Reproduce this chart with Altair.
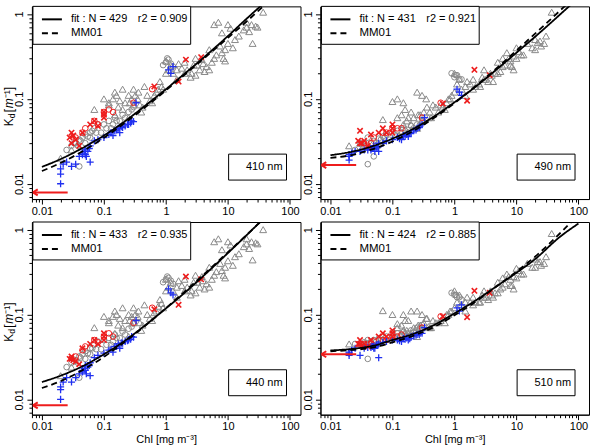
import altair as alt
import pandas as pd

FONT = "Liberation Sans"

# ---------------- panel descriptors ----------------
panel_labels = ["410 nm", "490 nm", "440 nm", "510 nm"]
fit_n = [429, 431, 433, 424]
fit_r2 = ["0.909", "0.921", "0.935", "0.885"]
kw_arrow = [0.0079, 0.0166, 0.0085, 0.034]
arrow_tail_chl = 0.026

# ---------------- curves ----------------
curve_chl = [0.01, 0.02, 0.05, 0.1, 0.2, 0.5, 1, 2, 5, 10, 20, 50, 100]
fit_410 = [0.0158, 0.0195, 0.0275, 0.037, 0.052, 0.087, 0.13, 0.198, 0.35, 0.55, 0.88, 1.6, 2.5]
mm01_410 = [0.0141, 0.0176, 0.0252, 0.0348, 0.0498, 0.0833, 0.126, 0.192, 0.339, 0.525, 0.815, 1.5, 2.3]
fit_490 = [0.0217, 0.0235, 0.028, 0.034, 0.043, 0.064, 0.091, 0.132, 0.228, 0.35, 0.54, 0.98, 1.55]
mm01_490 = [0.0202, 0.0215, 0.0258, 0.0314, 0.0405, 0.0615, 0.089, 0.1334, 0.236, 0.371, 0.588, 1.09, 1.75]
fit_440 = [0.016, 0.019, 0.0255, 0.034, 0.047, 0.078, 0.118, 0.18, 0.33, 0.53, 0.86, 1.65, 2.6]
mm01_440 = [0.0136, 0.0164, 0.0231, 0.0317, 0.0455, 0.0774, 0.119, 0.186, 0.34, 0.542, 0.865, 1.63, 2.6]
fit_510 = [0.0377, 0.039, 0.043, 0.05, 0.058, 0.077, 0.103, 0.14, 0.22, 0.31, 0.45, 0.82, 1.18]
mm01_510 = [0.0369, 0.038, 0.041, 0.047, 0.055, 0.073, 0.098, 0.135, 0.22, 0.32, 0.48, 0.9, 1.5]

# ---------------- gray triangles ----------------
tri_chl = [0.07, 0.1, 0.12, 0.15, 0.15, 0.18, 0.2, 0.2, 0.25, 0.3,
           0.3, 0.35, 0.4, 0.5, 0.6, 0.7, 0.8, 1.0, 1.0, 1.2,
           1.5, 1.5, 2.0, 2.0, 2.5, 3.0, 3.5, 4.0, 5.0, 5.0,
           6.0, 7.0, 8.0, 8.0, 10.0, 10.0, 15.0, 20.0, 25.0, 30.0,
           37.0, 0.45, 0.9, 1.8, 3.0, 6.0, 12.0, 0.25, 9.0, 9.0,
           20.0, 22.0, 28.0, 4.5, 2.8, 1.1, 0.02, 0.03,
           0.12, 0.14, 0.17, 0.22, 0.28, 0.32, 0.38, 0.42, 0.55, 0.65,
           0.75, 0.85, 1.3, 1.6, 2.2, 2.6, 3.2, 3.8, 4.2, 5.5,
           6.5, 7.5, 8.5, 11.0, 13.0, 18.0, 24.0, 0.16, 0.26, 0.36]
tri_410 = [0.075, 0.10, 0.085, 0.12, 0.065, 0.095, 0.13, 0.075, 0.11, 0.13,
           0.085, 0.10, 0.07, 0.11, 0.09, 0.12, 0.16, 0.28, 0.20, 0.25,
           0.22, 0.17, 0.27, 0.20, 0.18, 0.30, 0.22, 0.26, 0.22, 0.38,
           0.75, 0.80, 0.35, 0.60, 0.45, 0.75, 0.55, 0.70, 0.45, 0.70,
           1.05, 0.14, 0.13, 0.23, 0.19, 0.30, 0.40, 0.06, 0.28, 0.38,
           0.80, 0.62, 0.72, 0.24, 0.25, 0.22, 0.02, 0.025,
           0.09, 0.10, 0.08, 0.09, 0.10, 0.11, 0.085, 0.08, 0.095, 0.11,
           0.13, 0.14, 0.20, 0.26, 0.22, 0.20, 0.25, 0.29, 0.21, 0.27,
           0.33, 0.42, 0.30, 0.68, 0.50, 0.65, 0.75, 0.11, 0.09, 0.12]
tri_440 = [0.07, 0.095, 0.08, 0.11, 0.06, 0.09, 0.12, 0.07, 0.10, 0.12,
           0.08, 0.095, 0.065, 0.10, 0.085, 0.11, 0.15, 0.26, 0.19, 0.24,
           0.21, 0.16, 0.26, 0.19, 0.17, 0.29, 0.21, 0.25, 0.21, 0.36,
           0.72, 0.78, 0.33, 0.58, 0.43, 0.72, 0.52, 0.68, 0.44, 0.68,
           1.0, 0.13, 0.12, 0.22, 0.18, 0.29, 0.38, 0.055, 0.27, 0.36,
           0.78, 0.60, 0.70, 0.23, 0.24, 0.21, 0.019, 0.024,
           0.085, 0.095, 0.075, 0.085, 0.095, 0.10, 0.08, 0.075, 0.09, 0.105,
           0.125, 0.135, 0.19, 0.25, 0.21, 0.19, 0.24, 0.28, 0.20, 0.26,
           0.32, 0.40, 0.29, 0.66, 0.48, 0.63, 0.72, 0.10, 0.085, 0.11]
tri_490 = [0.057, 0.093, 0.10, 0.05, 0.09, 0.06, 0.07, 0.05, 0.12, 0.11,
           0.055, 0.10, 0.07, 0.08, 0.085, 0.075, 0.10, 0.20, 0.12, 0.17,
           0.14, 0.11, 0.17, 0.13, 0.15, 0.22, 0.16, 0.19, 0.20, 0.27,
           0.30, 0.35, 0.25, 0.28, 0.30, 0.40, 0.45, 0.50, 0.42, 0.55,
           1.05, 0.085, 0.11, 0.15, 0.17, 0.24, 0.33, 0.045, 0.22, 0.32,
           0.38, 0.46, 0.45, 0.20, 0.18, 0.15, 0.028, 0.03,
           0.06, 0.065, 0.055, 0.06, 0.065, 0.07, 0.06, 0.06, 0.07, 0.08,
           0.09, 0.10, 0.13, 0.16, 0.14, 0.14, 0.17, 0.20, 0.16, 0.21,
           0.25, 0.30, 0.24, 0.36, 0.33, 0.40, 0.48, 0.075, 0.065, 0.08]
tri_510 = [0.111, 0.10, 0.078, 0.10, 0.065, 0.085, 0.11, 0.06, 0.11, 0.10,
           0.07, 0.09, 0.07, 0.08, 0.085, 0.08, 0.10, 0.19, 0.12, 0.17,
           0.14, 0.11, 0.16, 0.13, 0.14, 0.19, 0.15, 0.17, 0.18, 0.24,
           0.27, 0.30, 0.22, 0.26, 0.27, 0.35, 0.40, 0.45, 0.38, 0.48,
           0.90, 0.085, 0.11, 0.14, 0.16, 0.21, 0.30, 0.055, 0.20, 0.28,
           0.36, 0.42, 0.40, 0.18, 0.17, 0.14, 0.045, 0.046,
           0.07, 0.075, 0.065, 0.07, 0.075, 0.08, 0.072, 0.07, 0.08, 0.09,
           0.10, 0.11, 0.13, 0.16, 0.14, 0.14, 0.16, 0.19, 0.16, 0.20,
           0.23, 0.28, 0.22, 0.33, 0.30, 0.36, 0.42, 0.085, 0.075, 0.09]

# ---------------- gray circles ----------------
circ_chl = [0.03, 0.035, 0.04, 0.045, 0.05, 0.06, 0.07, 0.08, 0.1, 0.12,
            0.15, 0.2, 0.25, 0.3, 0.04, 0.06, 0.09, 0.13, 0.18, 0.9,
            1.0, 1.1, 1.3, 0.05,
            0.025, 0.033, 0.038, 0.042, 0.055, 0.065, 0.075, 0.11, 0.14, 0.16,
            0.22, 0.28, 1.05, 1.2]
circ_410 = [0.028, 0.03, 0.033, 0.035, 0.038, 0.04, 0.045, 0.05, 0.05, 0.055,
            0.06, 0.065, 0.07, 0.08, 0.016, 0.035, 0.04, 0.045, 0.055, 0.25,
            0.27, 0.29, 0.24, 0.03,
            0.025, 0.03, 0.028, 0.032, 0.036, 0.042, 0.04, 0.045, 0.05, 0.055,
            0.06, 0.075, 0.30, 0.26]
circ_440 = [0.027, 0.029, 0.032, 0.034, 0.037, 0.04, 0.044, 0.048, 0.05, 0.053,
            0.058, 0.063, 0.068, 0.078, 0.018, 0.034, 0.039, 0.044, 0.053, 0.24,
            0.26, 0.27, 0.23, 0.03,
            0.024, 0.028, 0.027, 0.031, 0.035, 0.04, 0.039, 0.044, 0.048, 0.053,
            0.058, 0.072, 0.28, 0.25]
circ_490 = [0.03, 0.028, 0.035, 0.03, 0.032, 0.034, 0.036, 0.038, 0.04, 0.042,
            0.045, 0.048, 0.05, 0.055, 0.017, 0.028, 0.033, 0.036, 0.04, 0.2,
            0.18, 0.19, 0.17, 0.021,
            0.025, 0.028, 0.03, 0.027, 0.03, 0.033, 0.035, 0.038, 0.04, 0.042,
            0.045, 0.05, 0.19, 0.17]
circ_510 = [0.045, 0.047, 0.05, 0.048, 0.05, 0.052, 0.055, 0.055, 0.058, 0.06,
            0.062, 0.065, 0.07, 0.075, 0.03, 0.045, 0.05, 0.055, 0.06, 0.18,
            0.17, 0.16, 0.15, 0.043,
            0.045, 0.044, 0.046, 0.045, 0.048, 0.05, 0.052, 0.055, 0.057, 0.06,
            0.062, 0.068, 0.17, 0.16]

# ---------------- blue plus ----------------
blue_chl = [0.02, 0.02, 0.02, 0.022, 0.025, 0.03, 0.035, 0.04, 0.045, 0.05,
            0.05, 0.055, 0.06, 0.06, 0.07, 0.08, 0.1, 0.12, 0.15, 0.17,
            0.2, 0.22, 0.25, 0.28, 0.3, 0.18, 1.1, 1.2, 1.3, 0.33,
            0.045, 0.048, 0.052, 0.058, 0.13, 0.16, 0.19, 0.24, 0.27, 0.14]
blue_410 = [0.010, 0.013, 0.015, 0.017, 0.018, 0.016, 0.017, 0.021, 0.023, 0.022,
            0.025, 0.024, 0.018, 0.028, 0.032, 0.033, 0.035, 0.038, 0.042, 0.045,
            0.046, 0.048, 0.05, 0.055, 0.054, 0.04, 0.22, 0.2, 0.24, 0.09,
            0.022, 0.024, 0.021, 0.026, 0.04, 0.043, 0.047, 0.05, 0.052, 0.037]
blue_440 = [0.010, 0.013, 0.014, 0.016, 0.018, 0.016, 0.018, 0.02, 0.022, 0.022,
            0.025, 0.024, 0.019, 0.027, 0.031, 0.033, 0.035, 0.038, 0.042, 0.045,
            0.046, 0.048, 0.05, 0.055, 0.054, 0.04, 0.2, 0.18, 0.17, 0.085,
            0.021, 0.023, 0.02, 0.025, 0.039, 0.042, 0.046, 0.049, 0.051, 0.036]
blue_490 = [0.019, 0.021, 0.022, 0.023, 0.024, 0.024, 0.025, 0.025, 0.026, 0.026,
            0.028, 0.027, 0.024, 0.03, 0.03, 0.032, 0.033, 0.035, 0.037, 0.038,
            0.04, 0.042, 0.045, 0.048, 0.05, 0.036, 0.13, 0.12, 0.11, 0.06,
            0.025, 0.026, 0.024, 0.027, 0.034, 0.036, 0.039, 0.043, 0.046, 0.033]
blue_510 = [0.033, 0.035, 0.036, 0.038, 0.04, 0.033, 0.04, 0.041, 0.042, 0.043,
            0.04, 0.044, 0.031, 0.045, 0.047, 0.048, 0.05, 0.05, 0.052, 0.053,
            0.055, 0.056, 0.058, 0.06, 0.06, 0.05, 0.12, 0.11, 0.13, 0.07,
            0.041, 0.042, 0.04, 0.044, 0.049, 0.051, 0.052, 0.057, 0.058, 0.048]

# ---------------- red x ----------------
redx_chl = [0.028, 0.03, 0.032, 0.035, 0.04, 0.045, 0.06, 0.07, 0.08, 0.1,
            0.1, 0.1, 0.65, 1.6, 2.1, 3.7, 0.03]
redx_410 = [0.035, 0.04, 0.037, 0.033, 0.028, 0.04, 0.05, 0.055, 0.048, 0.065,
            0.07, 0.06, 0.14, 0.16, 0.29, 0.31, 0.03]
redx_440 = [0.03, 0.032, 0.029, 0.028, 0.026, 0.04, 0.045, 0.05, 0.045, 0.055,
            0.06, 0.05, 0.115, 0.13, 0.28, 0.26, 0.03]
redx_490 = [0.032, 0.042, 0.03, 0.032, 0.028, 0.038, 0.04, 0.045, 0.04, 0.05,
            0.045, 0.04, 0.088, 0.095, 0.22, 0.19, 0.03]
redx_510 = [0.045, 0.05, 0.043, 0.045, 0.042, 0.05, 0.055, 0.06, 0.055, 0.065,
            0.06, 0.055, 0.095, 0.093, 0.19, 0.18, 0.045]

# ---------------- red circles ----------------
redc_chl = [0.035, 0.05, 0.07, 0.08, 0.1, 0.12, 0.14, 0.3, 0.6, 0.045]
redc_410 = [0.035, 0.045, 0.055, 0.05, 0.07, 0.075, 0.07, 0.09, 0.13, 0.04]
redc_440 = [0.032, 0.042, 0.05, 0.047, 0.055, 0.06, 0.055, 0.08, 0.12, 0.038]
redc_490 = [0.03, 0.035, 0.04, 0.04, 0.045, 0.045, 0.045, 0.06, 0.09, 0.03]
redc_510 = [0.045, 0.048, 0.05, 0.05, 0.055, 0.055, 0.058, 0.07, 0.095, 0.046]

panel_data = [
    (tri_410, circ_410, blue_410, redx_410, redc_410, fit_410, mm01_410),
    (tri_490, circ_490, blue_490, redx_490, redc_490, fit_490, mm01_490),
    (tri_440, circ_440, blue_440, redx_440, redc_440, fit_440, mm01_440),
    (tri_510, circ_510, blue_510, redx_510, redc_510, fit_510, mm01_510),
]

# ---------------- styling ----------------
W, H = 269, 193
GRAY, BLUE, RED = "#8a8a8a", "#2030f0", "#ee1c1c"
PLUS = "M-1,0L1,0M0,-1L0,1"
XMARK = "M-0.8,-0.8L0.8,0.8M-0.8,0.8L0.8,-0.8"
ARROWHEAD = "M-1,0L0.2,-0.75M-1,0L0.2,0.75"

x_scale = alt.Scale(type="log", domain=[0.0069, 148], nice=False)
y_scale = alt.Scale(type="log", domain=[0.0066, 1.23], nice=False)

x_ticks = [0.007, 0.008, 0.009] + [round(d * m, 6) for d in (0.01, 0.1, 1, 10) for m in range(1, 10)] + [100]
y_ticks = [0.007, 0.008, 0.009] + [round(d * m, 6) for d in (0.01, 0.1) for m in range(1, 10)] + [1]

IS_MAJOR = "abs(log(datum.value)/LN10 - round(log(datum.value)/LN10)) < 0.01"
TICK_SIZE = {"condition": {"test": IS_MAJOR, "value": 5}, "value": 3}


def x_axis(title):
    kw = dict(
        values=x_ticks, labelExpr=f"{IS_MAJOR} ? format(datum.value, '~g') : ''",
        labelOverlap=False, labelFlush=False, tickSize=TICK_SIZE, tickColor="black",
        domainColor="black", labelColor="black", labelFontSize=11, labelFont=FONT,
        labelPadding=1, grid=False,
    )
    if title:
        kw.update(title=title, titleFont=FONT, titleFontSize=11, titleFontWeight="normal",
                  titlePadding=2, titleColor="black")
    else:
        kw.update(title=None)
    return alt.Axis(**kw)


y_axis = alt.Axis(
    values=y_ticks, labelExpr=f"{IS_MAJOR} ? format(datum.value, '~g') : ''",
    labelOverlap=False, labelFlush=False, tickSize=TICK_SIZE, tickColor="black",
    domainColor="black", labelColor="black", labelFontSize=11, labelFont=FONT,
    labelAngle=270, labelAlign="center", labelBaseline="bottom", labelPadding=2,
    grid=False, title=None,
)

dummy = pd.DataFrame({"a": [0]})


def make_panel(i, show_ytitle, xtitle):
    tri, circ, blue, redx, redc, fit, mm = panel_data[i]
    xa = x_axis(xtitle)

    def pts(chl, kd):
        return pd.DataFrame({"chl": chl, "kd": kd})

    def enc(ch):
        return ch.encode(
            x=alt.X("chl:Q", scale=x_scale, axis=xa),
            y=alt.Y("kd:Q", scale=y_scale, axis=y_axis),
        )

    layers = [
        enc(alt.Chart(pts(tri_chl, tri)).mark_point(shape="triangle-up", filled=False, color=GRAY,
                                                    size=48, strokeWidth=1, opacity=1)),
        enc(alt.Chart(pts(circ_chl, circ)).mark_point(shape="circle", filled=False, color=GRAY,
                                                      size=32, strokeWidth=1, opacity=1)),
        enc(alt.Chart(pts(redc_chl, redc)).mark_point(shape="circle", filled=False, color=RED,
                                                      size=32, strokeWidth=1, opacity=1)),
        enc(alt.Chart(pts(blue_chl, blue)).mark_point(shape=PLUS, filled=False, color=BLUE,
                                                      size=50, strokeWidth=1.3, opacity=1)),
        enc(alt.Chart(pts(redx_chl, redx)).mark_point(shape=XMARK, filled=False, color=RED,
                                                      size=45, strokeWidth=1.6, opacity=1)),
    ]

    curves = pd.DataFrame({
        "chl": curve_chl + curve_chl,
        "kd": fit + mm,
        "series": ["fit"] * len(curve_chl) + ["MM01"] * len(curve_chl),
    })
    layers.append(
        alt.Chart(curves).mark_line(color="black", strokeWidth=1.8, clip=True, interpolate="monotone")
        .encode(
            x=alt.X("chl:Q", scale=x_scale, axis=xa),
            y=alt.Y("kd:Q", scale=y_scale, axis=y_axis),
            detail="series:N",
            strokeDash=alt.StrokeDash("series:N", scale=alt.Scale(domain=["fit", "MM01"],
                                                                   range=[[1, 0], [6, 4]]), legend=None),
        )
    )

    arrow = pd.DataFrame({"chl": [arrow_tail_chl], "kd": [kw_arrow[i]]})
    layers.append(
        alt.Chart(arrow).mark_rule(color=RED, strokeWidth=2)
        .encode(x=alt.X("chl:Q", scale=x_scale, axis=xa), x2=alt.value(1),
                y=alt.Y("kd:Q", scale=y_scale, axis=y_axis))
    )
    layers.append(
        alt.Chart(arrow).mark_point(shape=ARROWHEAD, filled=False, color=RED, size=64,
                                    strokeWidth=2, opacity=1)
        .encode(x=alt.value(5), y=alt.Y("kd:Q", scale=y_scale, axis=y_axis))
    )

    # legend box
    layers.append(alt.Chart(dummy).mark_rect(fill="white", stroke="black", strokeWidth=1)
                  .encode(x=alt.value(1), x2=alt.value(159), y=alt.value(0), y2=alt.value(38)))
    layers.append(alt.Chart(dummy).mark_rule(color="black", strokeWidth=2)
                  .encode(x=alt.value(10), x2=alt.value(30), y=alt.value(13)))
    layers.append(alt.Chart(dummy).mark_rule(color="black", strokeWidth=2, strokeDash=[6, 4])
                  .encode(x=alt.value(10), x2=alt.value(30), y=alt.value(27)))
    txt = dict(font=FONT, fontSize=11, color="black", align="left", baseline="middle")
    layers.append(alt.Chart(dummy).mark_text(text=f"fit : N = {fit_n[i]}", **txt)
                  .encode(x=alt.value(39), y=alt.value(13)))
    layers.append(alt.Chart(dummy).mark_text(text=f"r2 = {fit_r2[i]}", **txt)
                  .encode(x=alt.value(106), y=alt.value(13)))
    layers.append(alt.Chart(dummy).mark_text(text="MM01", fontSize=11.5,
                                             **{k: v for k, v in txt.items() if k != "fontSize"})
                  .encode(x=alt.value(39), y=alt.value(27)))

    # wavelength box
    layers.append(alt.Chart(dummy).mark_rect(fill="white", stroke="black", strokeWidth=1)
                  .encode(x=alt.value(197), x2=alt.value(255), y=alt.value(148), y2=alt.value(174)))
    layers.append(alt.Chart(dummy).mark_text(text=panel_labels[i], font=FONT, fontSize=11,
                                             color="black", align="right", baseline="middle")
                  .encode(x=alt.value(251), y=alt.value(161)))

    if show_ytitle:
        rot = dict(font=FONT, color="black", angle=270, align="left", baseline="middle")
        layers.append(alt.Chart(dummy).mark_text(text="K", fontSize=12, **rot)
                      .encode(x=alt.value(-23), y=alt.value(120)))
        layers.append(alt.Chart(dummy).mark_text(text="d", fontSize=8.5, **rot)
                      .encode(x=alt.value(-19.5), y=alt.value(112)))
        layers.append(alt.Chart(dummy).mark_text(text="[", fontSize=12, **rot)
                      .encode(x=alt.value(-23), y=alt.value(106)))
        layers.append(alt.Chart(dummy).mark_text(text="m", fontSize=12, fontStyle="italic", **rot)
                      .encode(x=alt.value(-23), y=alt.value(102)))
        layers.append(alt.Chart(dummy).mark_text(text="\u207b\u00b9]", fontSize=12, **rot)
                      .encode(x=alt.value(-23), y=alt.value(92)))

    return alt.layer(*layers).properties(width=W, height=H)


p1 = make_panel(0, True, None)
p2 = make_panel(1, False, None)
p3 = make_panel(2, True, "Chl [mg  m\u207b\u00b3]")
p4 = make_panel(3, False, "Chl [mg  m\u207b\u00b3]")

chart = alt.concat(p1, p2, p3, p4, columns=2, spacing={"row": 23, "column": 20}, bounds="flush").properties(
    padding={"left": 2, "top": 5, "right": 0, "bottom": 0}, background="white"
).configure_view(stroke="black", strokeWidth=1)

chart.save("out.html", embed_options={"renderer": "svg", "actions": False})
